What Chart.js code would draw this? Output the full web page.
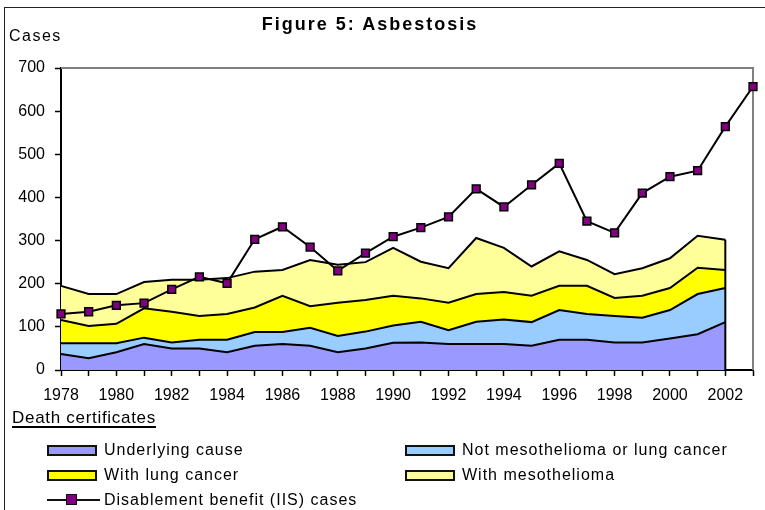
<!DOCTYPE html>
<html>
<head>
<meta charset="utf-8">
<script src="https://cdn.jsdelivr.net/npm/chart.js@4.4.0/dist/chart.umd.min.js"></script>
<style>
  html, body { margin: 0; padding: 0; background: #fff; }
  #wrap { position: relative; width: 765px; height: 510px; overflow: hidden; font-family: 'Liberation Sans', Arial, sans-serif; color: #000; }
  #frame { position: absolute; left: 4px; top: 7px; width: 770px; height: 520px; border-top: 1px solid #222; border-left: 1px solid #222; }
  canvas { position: absolute; left: 0; top: 0; }
  .txt { position: absolute; white-space: nowrap; }
  #title { left: 0; width: 740px; top: 13px; text-align: center; font-weight: bold; font-size: 18px; letter-spacing: 2px; line-height: 22px; }
  #ylab { left: 9px; top: 27px; font-size: 16px; letter-spacing: 1.5px; line-height: 18px; }
  #dc { left: 12px; top: 409px; font-size: 17px; letter-spacing: 0.7px; line-height: 18px; text-decoration: underline; text-decoration-thickness: 2px; text-underline-offset: 3px; }
  .box { position: absolute; width: 46px; height: 7px; border: 2px solid #111; }
  .lt { position: absolute; font-size: 16px; letter-spacing: 1px; line-height: 18px; white-space: nowrap; }
</style>
</head>
<body>
<div id="wrap">
  <canvas id="chartArea" width="765" height="510"></canvas>
  <div id="frame"></div>
  <div class="txt" id="title">Figure 5: Asbestosis</div>
  <div class="txt" id="ylab">Cases</div>
  <div class="txt" id="dc">Death certificates</div>
  <div id="legend"></div>
</div>
<script>
// chart values
const years = ['1978', '1979', '1980', '1981', '1982', '1983', '1984', '1985', '1986', '1987', '1988', '1989', '1990',
  '1991', '1992', '1993', '1994', '1995', '1996', '1997', '1998', '1999', '2000', '2001', '2002', '2003'];
const underlying = [37, 27, 41, 60, 50, 50, 41, 56, 60, 56, 41, 50, 63, 64, 60, 60, 60, 56, 70, 70, 64, 64, 73, 83, 111];
const notMeso = [25, 35, 21, 15, 14, 20, 29, 32, 28, 42, 38, 39, 40, 48, 32, 52, 57, 55, 69, 60, 61, 57, 66, 93, 79];
const lungCancer = [54, 40, 45, 68, 71, 55, 60, 57, 84, 50, 77, 73, 69, 54, 64, 64, 64, 61, 56, 65, 42, 51, 51, 61, 42];
const mesothelioma = [79, 74, 69, 61, 74, 84, 83, 83, 60, 107, 88, 88, 111, 85, 80, 130, 102, 68, 80, 60, 55, 64, 69, 74, 70];
const iisCases = [130, 135, 150, 155, 187, 216, 201, 303, 332, 285, 230, 271, 309, 330, 355, 420, 378, 429, 479, 345, 318, 410, 448, 462, 564, 657];

const areaNames = ['Underlying cause', 'Not mesothelioma or lung cancer', 'With lung cancer', 'With mesothelioma'];
const areaColors = ['#9999FF', '#99CCFF', '#FFFF00', '#FFFF99'];

// legend (html)
function buildLegend () {
  const lg = document.getElementById('legend');
  const spots = [[47, 104, 450], [405, 462, 450], [47, 104, 475], [405, 462, 475]];
  areaNames.forEach((name, i) => {
    const [bx, tx, cy] = spots[i];
    const b = document.createElement('div');
    b.className = 'box';
    b.style.left = bx + 'px';
    b.style.top = (cy - 5) + 'px';
    b.style.background = areaColors[i];
    lg.appendChild(b);
    const t = document.createElement('div');
    t.className = 'lt';
    t.style.left = tx + 'px';
    t.style.top = (cy - 9) + 'px';
    t.textContent = name;
    lg.appendChild(t);
  });
  const ln = document.createElement('div');
  ln.style.cssText = 'position:absolute;left:47px;top:499px;width:53px;height:2px;background:#111;';
  lg.appendChild(ln);
  const mk = document.createElement('div');
  mk.style.cssText = 'position:absolute;left:66px;top:494px;width:9px;height:9px;background:#800080;border:1.5px solid #111;';
  lg.appendChild(mk);
  const t = document.createElement('div');
  t.className = 'lt';
  t.style.left = '104px';
  t.style.top = '491px';
  t.textContent = 'Disablement benefit (IIS) cases';
  lg.appendChild(t);
}
buildLegend();

const plotFrame = {
  id: 'plotFrame',
  beforeDatasetsDraw(chart) {
    const c = chart.ctx;
    const a = chart.chartArea;
    // grey frame, top + right
    c.save();
    c.strokeStyle = '#808080';
    c.lineWidth = 2;
    c.beginPath();
    c.moveTo(a.left, a.top);
    c.lineTo(a.right, a.top);
    c.lineTo(a.right, a.bottom);
    c.stroke();
    c.restore();
  },
  afterDatasetsDraw(chart) {
    // closing edge of the stacked areas at the last year
    const c = chart.ctx;
    const top = chart.getDatasetMeta(4).data;
    const last = top[top.length - 1];
    c.save();
    c.strokeStyle = '#000';
    c.lineWidth = 2;
    c.beginPath();
    c.moveTo(last.x, last.y);
    c.lineTo(last.x, chart.scales.y.getPixelForValue(0));
    c.stroke();
    c.restore();
  }
};

Chart.defaults.font.family = "'Liberation Sans', Arial, sans-serif";
Chart.defaults.color = '#000';

function areaSet (i, data) {
  return {
    label: areaNames[i],
    data: data,
    stack: 'dc',
    backgroundColor: areaColors[i],
    borderColor: '#000',
    borderWidth: 2,
    pointRadius: 0,
    tension: 0,
    fill: i === 0 ? 'origin' : '-1',
    order: 1
  };
}

const chart = new Chart(document.getElementById('chartArea'), {
  type: 'line',
  data: {
    labels: years,
    datasets: [
      {
        label: 'Disablement benefit (IIS) cases',
        data: iisCases,
        stack: 'iis',
        borderColor: '#000',
        borderWidth: 2,
        pointStyle: 'rect',
        pointRadius: 5.5,
        pointBackgroundColor: '#800080',
        pointBorderColor: '#000',
        pointBorderWidth: 1.5,
        fill: false,
        tension: 0,
        clip: false,
        order: 0
      },
      areaSet(0, underlying),
      areaSet(1, notMeso),
      areaSet(2, lungCancer),
      areaSet(3, mesothelioma)
    ]
  },
  options: {
    responsive: false,
    animation: false,
    layout: {
      padding: { left: 0, top: 68, right: 12, bottom: 110 }
    },
    plugins: {
      legend: { display: false },
      tooltip: { enabled: false },
      title: { display: false }
    },
    scales: {
      x: {
        offset: false,
        grid: {
          drawOnChartArea: false,
          drawTicks: true,
          tickLength: 6,
          tickColor: '#000',
          tickWidth: 1.5,
          offset: false
        },
        border: { color: '#000', width: 2 },
        ticks: {
          autoSkip: false,
          maxRotation: 0,
          padding: 10,
          font: { size: 16 },
          callback: function (v, i) { return i % 2 === 0 ? this.getLabelForValue(v) : ''; }
        },
        afterFit(scale) { scale.height = 30; }
      },
      y: {
        stacked: true,
        min: 0,
        max: 700,
        grid: {
          drawOnChartArea: false,
          drawTicks: true,
          tickLength: 6,
          tickColor: '#000',
          tickWidth: 1.5
        },
        border: { color: '#000', width: 2 },
        ticks: {
          stepSize: 100,
          padding: 10,
          font: { size: 16 }
        },
        afterFit(scale) { scale.width = 61; }
      }
    }
  },
  plugins: [plotFrame]
});
</script>
</body>
</html>
